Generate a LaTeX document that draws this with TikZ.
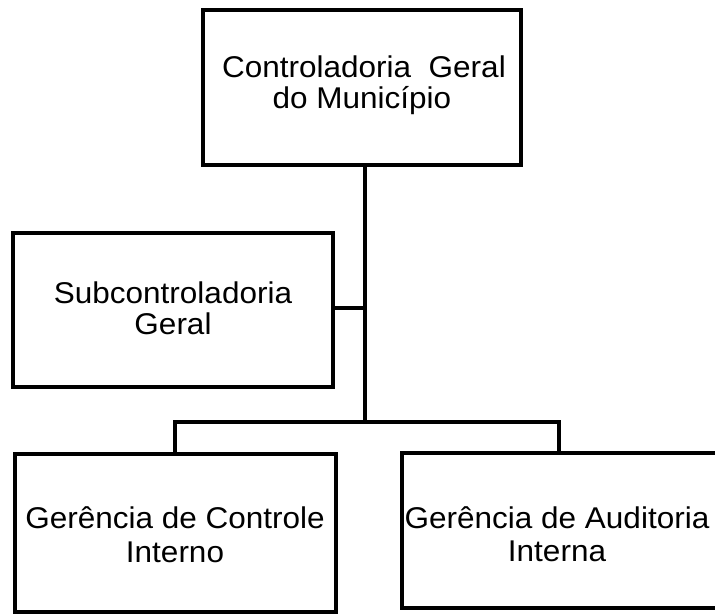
\documentclass[tikz,border=0pt]{standalone}
\usepackage{fontspec}
\newfontfamily\boxfont[FakeStretch=1.05]{Liberation Sans}
\begin{document}
\begin{tikzpicture}[x=1pt,y=-1pt,
  box/.style={draw=black,line width=3.8pt,rectangle,inner sep=0pt,line join=miter},
  conn/.style={draw=black,line width=3.8pt},
  lbl/.style={anchor=base,inner sep=0pt,font=\boxfont\fontsize{30}{32}\selectfont}]
\useasboundingbox (0,0) rectangle (715,615);
\clip (0,0) rectangle (715,615);
% boxes
\node[box,minimum width=318pt,minimum height=155pt] (top) at (362,87.5) {};
\node[box,minimum width=320pt,minimum height=154pt] (sub) at (173,310) {};
\node[box,minimum width=321pt,minimum height=158pt] (left) at (175.5,533) {};
\node[box,minimum width=330pt,minimum height=155pt] (right) at (567,530.5) {};
% texts
\node[lbl] (topA) at (364,78) {Controladoria\ \ Geral};
\node[lbl] (topB) at (362,109) {do Município};
\node[lbl] (subA) at (173,303) {Subcontroladoria};
\node[lbl] (subB) at (173,334) {Geral};
\node[lbl] (leftA) at (175,528) {Gerência de Controle};
\node[lbl] (leftB) at (175,562) {Interno};
\node[lbl] (rightA) at (557,528) {Gerência de Auditoria};
\node[lbl] (rightB) at (557,561) {Interna};
% junctions
\coordinate (jsub) at (365,308);
\coordinate (jbar) at (365,422);
\coordinate (bl) at (175,422);
\coordinate (br) at (559,422);
% connectors
\draw[conn] (top.south -| jbar) -- (jbar);
\draw[conn] (sub.east |- jsub) -- (jsub);
\draw[conn,line join=miter] (left.north -| bl) -- (bl) -- (br) -- (right.north -| br);
\end{tikzpicture}
\end{document}
